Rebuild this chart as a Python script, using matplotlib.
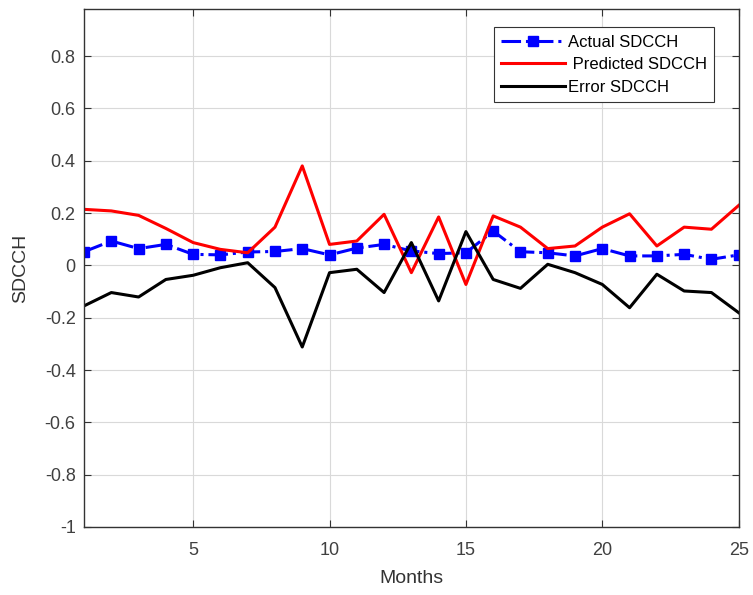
import matplotlib.pyplot as plt

plt.rcParams['font.family'] = ['Liberation Sans', 'DejaVu Sans']

# data
months = list(range(1, 26))
actual = [0.052, 0.093, 0.064, 0.080, 0.042, 0.040, 0.051, 0.053, 0.064, 0.040,
          0.066, 0.080, 0.055, 0.045, 0.048, 0.131, 0.052, 0.048, 0.036, 0.064,
          0.036, 0.036, 0.042, 0.023, 0.040]
predicted = [0.214, 0.208, 0.191, 0.141, 0.087, 0.061, 0.048, 0.146, 0.380, 0.080,
             0.093, 0.195, -0.028, 0.185, -0.073, 0.189, 0.146, 0.064, 0.074, 0.146,
             0.197, 0.074, 0.146, 0.138, 0.229]
error = [-0.155, -0.104, -0.121, -0.054, -0.038, -0.009, 0.010, -0.085, -0.312, -0.028,
         -0.015, -0.104, 0.087, -0.136, 0.129, -0.054, -0.088, 0.004, -0.028, -0.073,
         -0.162, -0.034, -0.098, -0.104, -0.181]

fig = plt.figure(figsize=(7.53, 5.95), dpi=100)
ax = fig.add_axes([0.1116, 0.1143, 0.8694, 0.8707])

ax.plot(months, actual, color='blue', linestyle='-.', linewidth=2.2,
        marker='s', markersize=7, markerfacecolor='blue', markeredgecolor='blue',
        label='Actual SDCCH')
ax.plot(months, predicted, color='red', linewidth=2.2, label=' Predicted SDCCH')
ax.plot(months, error, color='black', linewidth=2.2, label='Error SDCCH')

ax.set_xlim(1, 25)
ax.set_ylim(-1, 0.98)
ax.set_xticks([5, 10, 15, 20, 25])
ax.set_yticks([-1, -0.8, -0.6, -0.4, -0.2, 0, 0.2, 0.4, 0.6, 0.8])
ax.set_yticklabels(['-1', '-0.8', '-0.6', '-0.4', '-0.2', '0', '0.2', '0.4', '0.6', '0.8'])
ax.tick_params(direction='in', top=True, right=True, labelsize=13,
               colors='#333333', labelcolor='#404040', length=5)
ax.tick_params(axis='x', pad=11)
ax.tick_params(axis='y', pad=6)
ax.grid(True, color='#d9d9d9', linewidth=0.8)
for s in ax.spines.values():
    s.set_color('#333333')
    s.set_linewidth(1.0)

ax.set_xlabel('Months', fontsize=14, color='#333333', labelpad=8)
ax.set_ylabel('SDCCH', fontsize=14, color='#333333', labelpad=11)

leg = ax.legend(loc='upper right', bbox_to_anchor=(0.963, 0.965), borderaxespad=0,
                fontsize=12, fancybox=False, edgecolor='#333333', framealpha=1,
                handlelength=3.8, borderpad=0.45, labelspacing=0.45, handletextpad=0.2)
leg.get_frame().set_linewidth(0.8)

fig.savefig('out.png', dpi=100)
